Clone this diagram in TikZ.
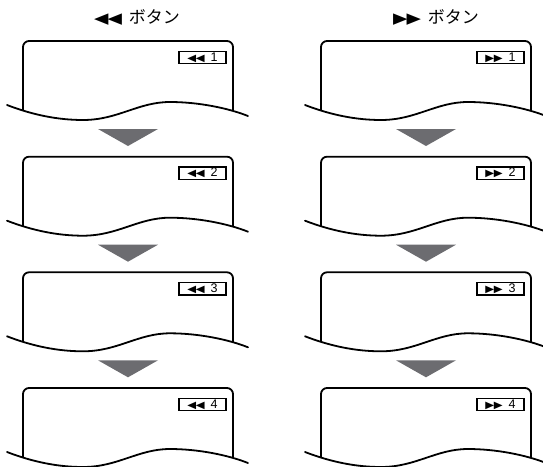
\documentclass[tikz,border=0pt]{standalone}
\usepackage{fontspec}
\setmainfont{Liberation Sans}
\newfontfamily\jpfont{Noto Sans CJK JP}
\newfontfamily\symfont{DejaVu Sans}
\definecolor{arrowgray}{RGB}{108,108,112}
\tikzset{
  boxline/.style={line width=1.8pt, line cap=round, line join=round},
  labelbox/.style={draw, line width=1.4pt, minimum width=47pt, minimum height=12.5pt, inner sep=0pt, font=\fontsize{12.5}{12.5}\selectfont},
  downarrow/.style={fill=arrowgray, draw=none},
  titletext/.style={font=\fontsize{17}{17}\selectfont, inner sep=0pt}
}
\newcommand\wavepath{(-16,64) .. controls (10,74) and (35,79) .. (60,79) .. controls (95,79) and (115,61) .. (147,61) .. controls (175,61) and (205,67) .. (225,75)}
% #1 ox, #2 oy, #3 name, #4 label text
\newcommand\screenpanel[4]{%
  \begin{scope}[shift={(#1,#2)}]
    \begin{scope}
      \clip (-30,-10) -- (-30,64) -- \wavepath -- (240,75) -- (240,-10) -- cycle;
      \draw[boxline, rounded corners=6pt] (0,95) -- (0,0) -- (210,0) -- (210,95);
    \end{scope}
    \draw[boxline] \wavepath;
    \node[labelbox] (#3) at (179.5,16.5) {#4};
  \end{scope}}
\newcommand\stepdown[3]{%
  \begin{scope}[shift={(#1,#2)}]
    \path[downarrow] (75,88) -- (135,88) -- (105,105) -- cycle;
    \coordinate (#3) at (105,96);
  \end{scope}}
\newcommand\smallsym[1]{{\symfont\fontsize{10}{10}\selectfont\scalebox{1.15}[1]{#1}}}
\newcommand\bigsym[1]{{\symfont\fontsize{15}{15}\selectfont\scalebox{1.25}[1]{#1}}}
\newcommand\rw{\smallsym{◀}\kern-0.5pt\smallsym{◀}}
\newcommand\ff{\smallsym{▶}\kern-0.5pt\smallsym{▶}}
\begin{document}
\begin{tikzpicture}[x=1pt,y=-1pt]
\useasboundingbox (0,0) rectangle (543,466);
\node[titletext] (tl) at (137,17.5) {\bigsym{◀}\kern-1pt\bigsym{◀}\hspace{7pt}{\jpfont ボタン}};
\node[titletext] (tr) at (436,17.5) {\bigsym{▶}\kern-1pt\bigsym{▶}\hspace{7pt}{\jpfont ボタン}};
\screenpanel{23}{41}{l1}{\rw\hspace{6pt}1}
\screenpanel{23}{156.7}{l2}{\rw\hspace{6pt}2}
\screenpanel{23}{272.3}{l3}{\rw\hspace{6pt}3}
\screenpanel{23}{388}{l4}{\rw\hspace{6pt}4}
\screenpanel{321}{41}{r1}{\ff\hspace{6pt}1}
\screenpanel{321}{156.7}{r2}{\ff\hspace{6pt}2}
\screenpanel{321}{272.3}{r3}{\ff\hspace{6pt}3}
\screenpanel{321}{388}{r4}{\ff\hspace{6pt}4}
\stepdown{23}{41}{la1}
\stepdown{23}{156.7}{la2}
\stepdown{23}{272.3}{la3}
\stepdown{321}{41}{ra1}
\stepdown{321}{156.7}{ra2}
\stepdown{321}{272.3}{ra3}
\end{tikzpicture}
\end{document}
